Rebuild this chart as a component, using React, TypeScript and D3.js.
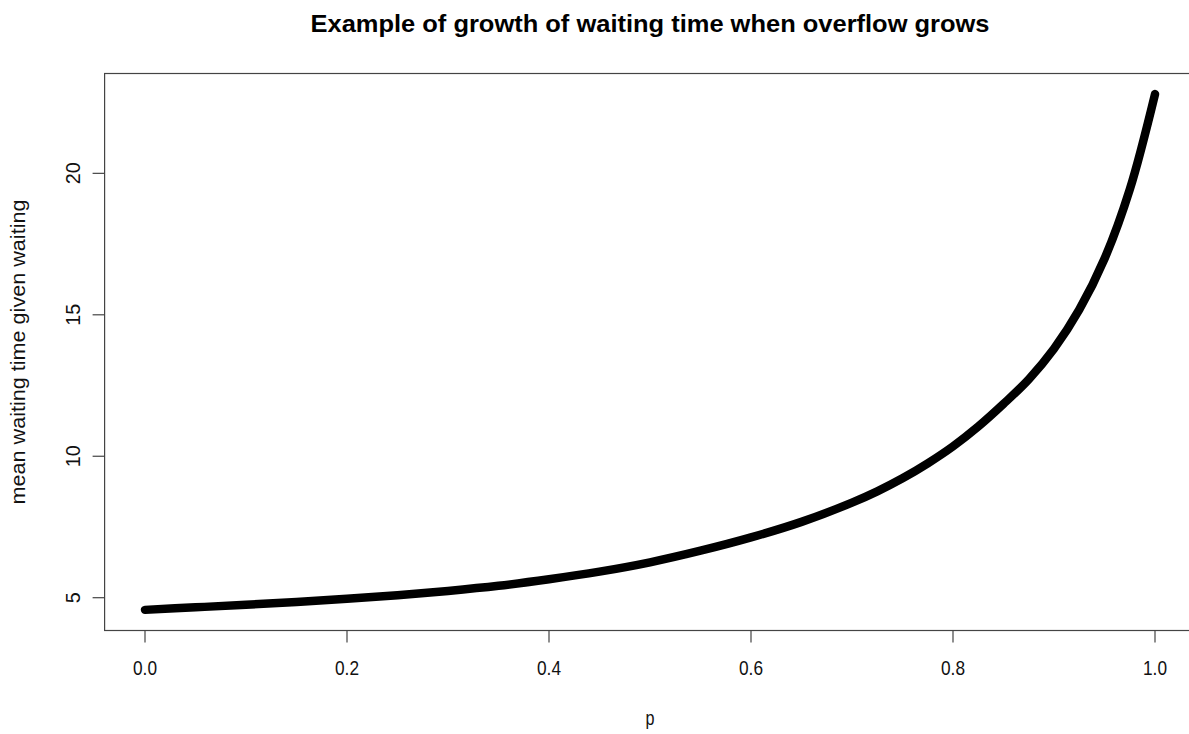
import React from 'react';
import * as d3 from 'd3';

// values
const pValues = [0, 0.05, 0.1, 0.15, 0.2, 0.25, 0.3, 0.35, 0.4, 0.45, 0.5, 0.55, 0.6, 0.65, 0.7, 0.725, 0.75, 0.775, 0.8, 0.825, 0.85, 0.875, 0.9, 0.925, 0.95, 0.975, 1.0];
const waitValues = [4.57, 4.66, 4.75, 4.85, 4.96, 5.09, 5.24, 5.42, 5.65, 5.92, 6.25, 6.66, 7.13, 7.68, 8.36, 8.76, 9.22, 9.75, 10.35, 11.05, 11.85, 12.72, 13.8, 15.18, 16.98, 19.43, 22.8];
const xTicks = [0, 0.2, 0.4, 0.6, 0.8, 1.0];
const yTicks = [5, 10, 15, 20];

const title = 'Example of growth of waiting time when overflow grows';
const xLabel = 'p';
const yLabel = 'mean waiting time given waiting';

const W = 1189;
const H = 734;
const box = { left: 104.6, right: 1195.4, top: 73.5, bottom: 630.5 };

const App = () => {
  // R style 4% padding on both axes
  const yMin = d3.min(waitValues)!;
  const yMax = d3.max(waitValues)!;
  const yPad = (yMax - yMin) * 0.04;

  const x = d3.scaleLinear().domain([-0.04, 1.04]).range([box.left, box.right]);
  const y = d3.scaleLinear().domain([yMin - yPad, yMax + yPad]).range([box.bottom, box.top]);

  const pts = pValues.map((p, i) => [p, waitValues[i]] as [number, number]);
  const line = d3.line<[number, number]>()
    .x(d => x(d[0]))
    .y(d => y(d[1]))
    .curve(d3.curveCatmullRom.alpha(0.5));

  const font = 'Arial, "Liberation Sans", Helvetica, sans-serif';
  const axisCol = '#444';
  const txtCol = '#111';

  return (
    <div style={{ position: 'absolute', left: 0, top: 0 }}>
      <svg width={W} height={H} style={{ display: 'block', background: '#fff' }} fontFamily={font}>
        <text x={650} y={32} textAnchor="middle" fontSize={24} fontWeight="bold" fill="#000"
          textLength={679} lengthAdjust="spacingAndGlyphs">
          {title}
        </text>

        <path d={line(pts) ?? ''} fill="none" stroke="#000" strokeWidth={8.5} strokeLinecap="round" strokeLinejoin="round" />

        <rect x={box.left} y={box.top} width={box.right - box.left} height={box.bottom - box.top}
          fill="none" stroke={axisCol} strokeWidth={1.2} />

        {/* x axis */}
        <line x1={x(xTicks[0])} x2={x(xTicks[xTicks.length - 1])} y1={box.bottom} y2={box.bottom} stroke={axisCol} strokeWidth={1.2} />
        {xTicks.map(t => (
          <g key={t}>
            <line x1={x(t)} x2={x(t)} y1={box.bottom} y2={box.bottom + 12} stroke={axisCol} strokeWidth={1.2} />
            <text x={x(t)} y={675} textAnchor="middle" fontSize={21} fill={txtCol}
              textLength={24} lengthAdjust="spacingAndGlyphs">{t.toFixed(1)}</text>
          </g>
        ))}
        <text x={650} y={725} textAnchor="middle" fontSize={21} fill={txtCol}
          textLength={9} lengthAdjust="spacingAndGlyphs">{xLabel}</text>

        {/* y axis */}
        {yTicks.map(t => (
          <g key={t}>
            <line x1={box.left - 12} x2={box.left} y1={y(t)} y2={y(t)} stroke={axisCol} strokeWidth={1.2} />
            <text transform={`translate(80,${y(t)}) rotate(-90)`} textAnchor="middle" fontSize={21} fill={txtCol}
              textLength={String(t).length * 11} lengthAdjust="spacingAndGlyphs">{t}</text>
          </g>
        ))}
        <text transform={`translate(25,${(box.top + box.bottom) / 2}) rotate(-90)`} textAnchor="middle" fontSize={20} fill={txtCol}
          textLength={305} lengthAdjust="spacingAndGlyphs">
          {yLabel}
        </text>
      </svg>
    </div>
  );
};

export default App;
